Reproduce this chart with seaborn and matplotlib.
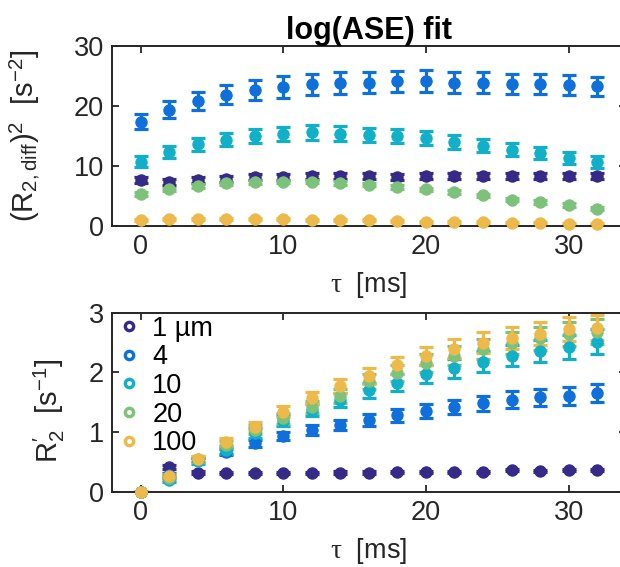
import numpy as np
import pandas as pd
import matplotlib
matplotlib.use("Agg")
import matplotlib.pyplot as plt
import seaborn as sns
from matplotlib.lines import Line2D

# ---------------- data ----------------
tau = [0, 2, 4, 6, 8, 10, 12, 14, 16, 18, 20, 22, 24, 26, 28, 30, 32]
sizes = ["1 µm", "4", "10", "20", "100"]
colors = ["#352A87", "#0F6FDB", "#12B0C8", "#7CC27A", "#EDB94A"]

# top panel: (R2,diff)^2 [s^-2]
top_1 = [7.6, 7.4, 7.7, 7.9, 8.1, 8.2, 8.3, 8.3, 8.3, 8.2, 8.3, 8.3, 8.4, 8.4, 8.4, 8.4, 8.4]
top_4 = [17.4, 19.4, 20.9, 21.9, 22.7, 23.2, 23.6, 23.8, 23.9, 24.1, 24.2, 23.9, 23.9, 23.7, 23.7, 23.5, 23.3]
top_10 = [10.7, 12.3, 13.6, 14.4, 15.0, 15.3, 15.6, 15.4, 15.2, 15.0, 14.7, 14.0, 13.4, 12.7, 12.1, 11.3, 10.7]
top_20 = [5.3, 6.1, 6.7, 7.1, 7.3, 7.4, 7.4, 7.2, 6.9, 6.5, 6.1, 5.7, 5.1, 4.4, 4.0, 3.5, 2.9]
top_100 = [1.06, 1.2, 1.2, 1.2, 1.2, 1.2, 1.06, 1.06, 1.06, 0.83, 0.67, 0.67, 0.67, 0.5, 0.5, 0.33, 0.28]

top_err_1 = [0.5] * 17
top_err_4 = [1.3, 1.4, 1.5, 1.6, 1.7, 1.8, 1.8, 1.8, 1.8, 1.8, 1.8, 1.8, 1.8, 1.7, 1.7, 1.7, 1.6]
top_err_10 = [0.9, 1.0, 1.1, 1.1, 1.2, 1.2, 1.2, 1.2, 1.2, 1.2, 1.2, 1.1, 1.1, 1.1, 1.0, 1.0, 1.0]
top_err_20 = [0.3] * 17
top_err_100 = [0.15] * 17

# bottom panel: R2' [s^-1]
bot_1 = [0.0, 0.41, 0.32, 0.31, 0.31, 0.31, 0.31, 0.32, 0.32, 0.33, 0.33, 0.33, 0.33, 0.36, 0.35, 0.36, 0.36]
bot_4 = [0.0, 0.28, 0.53, 0.67, 0.81, 0.93, 1.03, 1.12, 1.20, 1.28, 1.35, 1.42, 1.48, 1.54, 1.58, 1.61, 1.65]
bot_10 = [0.0, 0.20, 0.51, 0.70, 0.98, 1.19, 1.37, 1.54, 1.70, 1.83, 1.97, 2.07, 2.18, 2.28, 2.36, 2.43, 2.51]
bot_20 = [0.0, 0.23, 0.54, 0.79, 1.04, 1.23, 1.42, 1.60, 1.85, 1.99, 2.16, 2.28, 2.39, 2.49, 2.57, 2.65, 2.68]
bot_100 = [0.0, 0.27, 0.55, 0.84, 1.09, 1.34, 1.57, 1.77, 1.94, 2.12, 2.28, 2.40, 2.50, 2.58, 2.65, 2.72, 2.75]

bot_err_1 = [0.0, 0.03, 0.02, 0.02, 0.02, 0.02, 0.02, 0.02, 0.02, 0.02, 0.02, 0.02, 0.02, 0.02, 0.02, 0.02, 0.02]
bot_err_4 = [0.0, 0.03, 0.04, 0.05, 0.06, 0.07, 0.08, 0.09, 0.10, 0.11, 0.12, 0.12, 0.13, 0.14, 0.14, 0.15, 0.15]
bot_err_10 = [0.0, 0.03, 0.05, 0.06, 0.08, 0.09, 0.10, 0.12, 0.13, 0.14, 0.15, 0.16, 0.17, 0.18, 0.19, 0.20, 0.21]
bot_err_20 = [0.0, 0.03, 0.05, 0.06, 0.08, 0.09, 0.10, 0.12, 0.13, 0.14, 0.15, 0.16, 0.17, 0.18, 0.19, 0.20, 0.21]
bot_err_100 = [0.0, 0.03, 0.05, 0.06, 0.08, 0.09, 0.10, 0.12, 0.13, 0.14, 0.15, 0.16, 0.17, 0.18, 0.19, 0.20, 0.21]

xticks = [0, 10, 20, 30]
top_yticks = [0, 10, 20, 30]
bot_yticks = [0, 1, 2, 3]

# ---------------- style ----------------
sns.set_theme(style="ticks")
plt.rcParams["font.family"] = ["Liberation Sans", "DejaVu Sans"]
plt.rcParams["mathtext.fontset"] = "custom"
plt.rcParams["mathtext.rm"] = "Liberation Sans"
plt.rcParams["mathtext.it"] = "Liberation Serif"
plt.rcParams["mathtext.bf"] = "Liberation Sans:bold"

FS = 19.5
spine_col = "#262626"


def long_df(vals, errs):
    rows = []
    for name, v, e in zip(sizes, vals, errs):
        for t, y, ee in zip(tau, v, e):
            rows.append({"tau": t, "val": y, "err": ee, "size": name})
    return pd.DataFrame(rows)


df_top = long_df([top_1, top_4, top_10, top_20, top_100],
                 [top_err_1, top_err_4, top_err_10, top_err_20, top_err_100])
df_bot = long_df([bot_1, bot_4, bot_10, bot_20, bot_100],
                 [bot_err_1, bot_err_4, bot_err_10, bot_err_20, bot_err_100])

palette = dict(zip(sizes, colors))

fig = plt.figure(figsize=(6.2, 5.67), dpi=100)
W, H = 620.0, 567.0
xl, xr = -2, 34
left_px = 112.0
px_per_unit = 14.27
width_px = (xr - xl) * px_per_unit

ax1 = fig.add_axes([left_px / W, 1 - 226 / H, width_px / W, 180 / H])
ax2 = fig.add_axes([left_px / W, 1 - 491.7 / H, width_px / W, 179 / H])


def draw(ax, df):
    for name in sizes:
        d = df[df["size"] == name]
        ax.errorbar(d["tau"], d["val"], yerr=d["err"], fmt="none",
                    ecolor=palette[name], elinewidth=2.3, capsize=5,
                    capthick=2.3, zorder=2)
        sns.scatterplot(data=d, x="tau", y="val", color=palette[name], s=66,
                        edgecolor=palette[name], linewidth=0.8, ax=ax,
                        legend=False, zorder=3, clip_on=False)


draw(ax1, df_top)
draw(ax2, df_bot)

for ax, yt, yl in [(ax1, top_yticks, (0, 30)), (ax2, bot_yticks, (0, 3))]:
    ax.set_xlim(xl, xr)
    ax.set_ylim(*yl)
    ax.set_xticks(xticks)
    ax.set_yticks(yt)
    ax.tick_params(direction="in", length=5, width=1.3, top=True, right=True,
                   labelsize=FS, colors=spine_col, pad=6)
    for s in ax.spines.values():
        s.set_color(spine_col)
        s.set_linewidth(1.4)
    ax.set_xlabel(r"$\tau$  [ms]", fontsize=FS, color=spine_col)
    ax.xaxis.set_label_coords(0.5 * (626 - 112) / width_px, -0.245)

ax1.set_ylabel(r"$(\mathrm{R}_{2,\mathrm{diff}})^2$  [s$^{-2}$]", fontsize=21,
               color=spine_col)
ax1.yaxis.set_label_coords(-0.135, 0.5)
ax2.set_ylabel(r"$\mathrm{R}_2^{\prime}$  [s$^{-1}$]", fontsize=21, color=spine_col)
ax2.yaxis.set_label_coords(-0.088, 0.45)

ax1.set_title("log(ASE) fit", fontsize=22, fontweight="bold", color="black",
              pad=5)

handles = [Line2D([], [], linestyle="none", marker="o", markersize=6,
                  markerfacecolor="white", markeredgecolor=c, markeredgewidth=2.4)
           for c in colors]
leg = ax2.legend(handles, sizes, loc="upper left", frameon=False,
                 fontsize=FS, handlelength=0.6, handletextpad=0.55,
                 labelspacing=0.1, borderaxespad=0.2,
                 bbox_to_anchor=(-0.014, 1.075))
for t in leg.get_texts():
    t.set_color("black")

fig.savefig("out.png", dpi=100)
